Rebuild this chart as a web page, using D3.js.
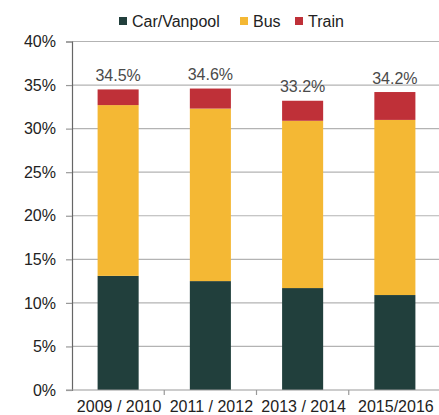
<!DOCTYPE html>
<html>
<head>
<meta charset="utf-8">
<script src="https://cdn.jsdelivr.net/npm/d3@7/dist/d3.min.js"></script>
<style>
  html, body { margin: 0; padding: 0; background: #fff; }
  svg { display: block; font-family: "Liberation Sans", Arial, sans-serif; }
</style>
</head>
<body>
<svg id="chart" width="439" height="415"></svg>
<script>
// Survey periods
const categories = ["2009 / 2010", "2011 / 2012", "2013 / 2014", "2015/2016"];
// Commute mode shares (%) per period
const carVanpool = [13.1, 12.5, 11.7, 10.9];
const bus = [19.6, 19.8, 19.2, 20.1];
const train = [1.8, 2.3, 2.3, 3.2];
// Stated totals shown above each bar
const totals = [34.5, 34.6, 33.2, 34.2];
const seriesNames = ["Car/Vanpool", "Bus", "Train"];
const seriesColors = ["#213f3c", "#f4b834", "#bf3038"];
const yTicks = [0, 5, 10, 15, 20, 25, 30, 35, 40];

const svg = d3.select("#chart");
const margin = { left: 72, right: -2, top: 41.5, bottom: 25 };
const W = 439, H = 415;

const x = d3.scaleBand()
  .domain(categories)
  .range([margin.left, W - margin.right])
  .paddingInner(0.555)
  .paddingOuter(0.2775);

const y = d3.scaleLinear().domain([0, 40]).range([H - margin.bottom, margin.top]);

// Horizontal gridlines
svg.append("g")
  .selectAll("line")
  .data(yTicks.slice(1))
  .join("line")
  .attr("x1", margin.left)
  .attr("x2", W)
  .attr("y1", d => y(d))
  .attr("y2", d => y(d))
  .attr("stroke", "#b3b3b3")
  .attr("stroke-width", 1.2);

// Stack the three modes
const rows = categories.map((c, i) => ({ cat: c, "Car/Vanpool": carVanpool[i], "Bus": bus[i], "Train": train[i] }));
const stack = d3.stack().keys(seriesNames)(rows);

svg.append("g")
  .selectAll("g")
  .data(stack)
  .join("g")
  .attr("fill", (d, i) => seriesColors[i])
  .selectAll("rect")
  .data(d => d)
  .join("rect")
  .attr("x", d => x(d.data.cat))
  .attr("width", x.bandwidth())
  .attr("y", d => y(d[1]))
  .attr("height", d => y(d[0]) - y(d[1]));

// Y axis
const yAxis = svg.append("g")
  .attr("transform", `translate(${margin.left},0)`)
  .call(d3.axisLeft(y).tickValues(yTicks).tickFormat(d => d + "%").tickSize(6).tickPadding(10));
yAxis.select(".domain").attr("stroke", "#666").attr("stroke-width", 1.2);
yAxis.selectAll(".tick line").attr("stroke", "#999").attr("stroke-width", 1.2);
yAxis.selectAll(".tick text")
  .attr("font-size", "16px")
  .attr("fill", "#222")
  .attr("font-family", "Liberation Sans, Arial, sans-serif");

// X axis with ticks at category boundaries
const xAxisG = svg.append("g").attr("transform", `translate(0,${y(0)})`);
xAxisG.append("line")
  .attr("x1", margin.left - 6).attr("x2", W)
  .attr("y1", 0).attr("y2", 0)
  .attr("stroke", "#999").attr("stroke-width", 1.2);
const step = x.step();
xAxisG.selectAll("line.tick")
  .data(categories.slice(1))
  .join("line")
  .attr("class", "tick")
  .attr("x1", d => x(d) - (step - x.bandwidth()) / 2)
  .attr("x2", d => x(d) - (step - x.bandwidth()) / 2)
  .attr("y1", 0).attr("y2", 5)
  .attr("stroke", "#999").attr("stroke-width", 1.2);
xAxisG.selectAll("text")
  .data(categories)
  .join("text")
  .attr("x", d => x(d) + x.bandwidth() / 2 + 1)
  .attr("y", 22)
  .attr("text-anchor", "middle")
  .attr("font-size", "16px")
  .attr("fill", "#222")
  .text(d => d);

// Total labels above bars
svg.append("g")
  .selectAll("text")
  .data(categories)
  .join("text")
  .attr("x", d => x(d) + x.bandwidth() / 2)
  .attr("y", (d, i) => y(totals[i]) - 8.5)
  .attr("text-anchor", "middle")
  .attr("font-size", "16px")
  .attr("fill", "#4a4a4a")
  .text((d, i) => totals[i].toFixed(1) + "%");

// Legend
const legendItems = [
  { name: "Car/Vanpool", color: seriesColors[0], x: 119 },
  { name: "Bus", color: seriesColors[1], x: 240 },
  { name: "Train", color: seriesColors[2], x: 295 }
];
const lg = svg.append("g");
lg.selectAll("rect")
  .data(legendItems)
  .join("rect")
  .attr("x", d => d.x)
  .attr("y", 17)
  .attr("width", 8)
  .attr("height", 8)
  .attr("fill", d => d.color);
lg.selectAll("text")
  .data(legendItems)
  .join("text")
  .attr("x", d => d.x + 13)
  .attr("y", 27)
  .attr("font-size", "16px")
  .attr("fill", "#222")
  .text(d => d.name);
</script>
</body>
</html>
